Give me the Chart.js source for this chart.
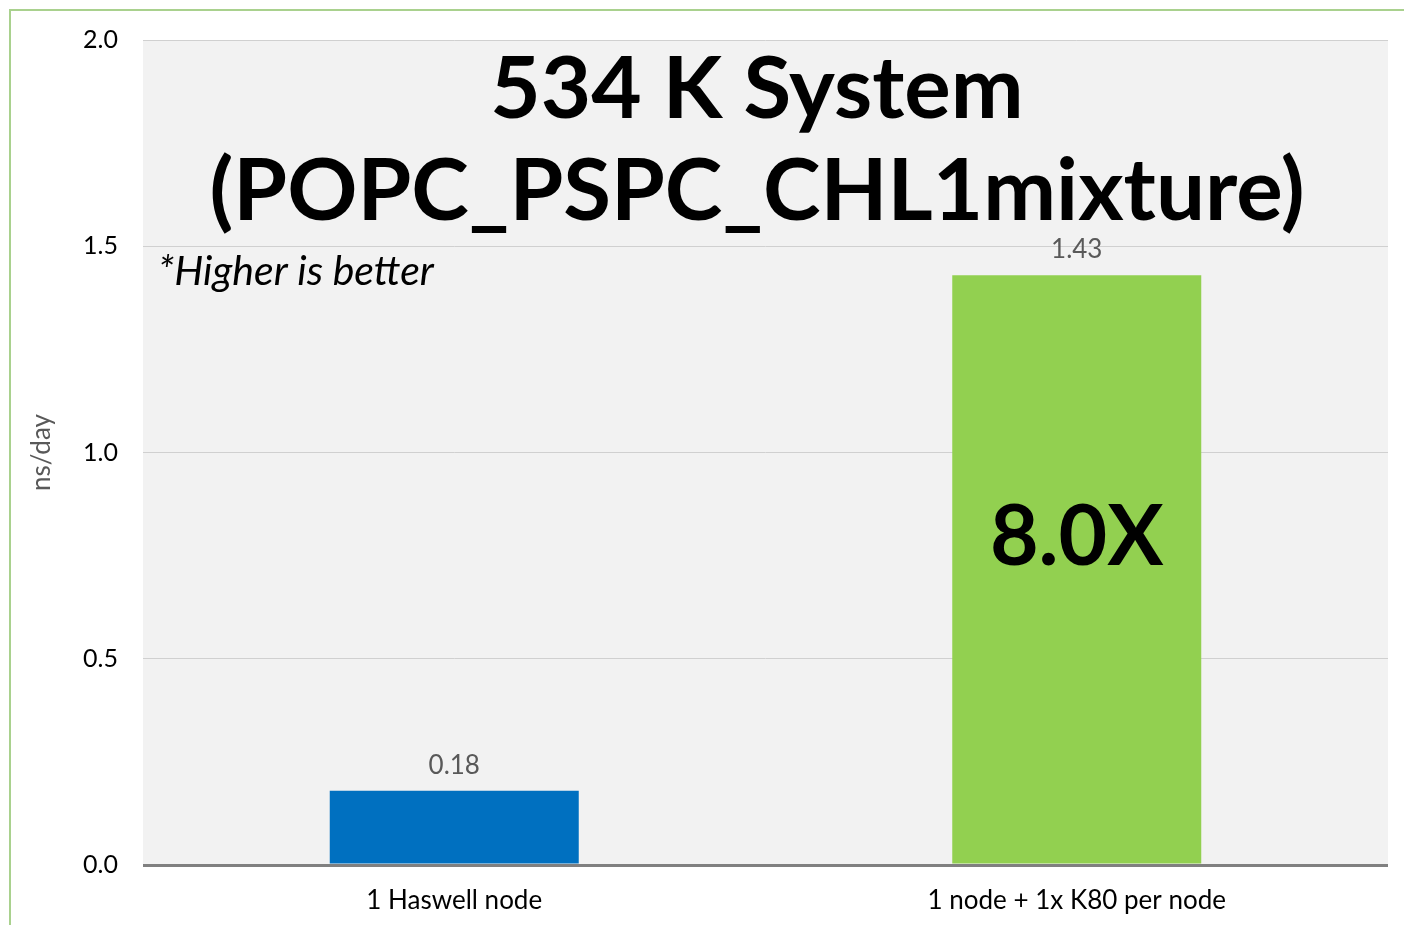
<!DOCTYPE html>
<html>
<head>
<meta charset="utf-8">
<script src="https://cdn.jsdelivr.net/npm/chart.js@4.4.1/dist/chart.umd.min.js"></script>
<style>
  html, body { margin: 0; padding: 0; background: #fff; }
  #wrap { position: relative; width: 1404px; height: 925px; }
</style>
</head>
<body>
<div id="wrap"><canvas id="myChart" width="1404" height="925"></canvas></div>
<script>
const categories = ['1 Haswell node', '1 node + 1x K80 per node'];
const nsPerDay = [0.18, 1.43];
const barColors = ['#0070c0', '#92d050'];
const yTicks = [0.0, 0.5, 1.0, 1.5, 2.0];
const titleLines = ['534 K System', '(POPC_PSPC_CHL1mixture)'];
const speedupText = '8.0X';
const noteText = '*Higher is better';

const FONT = 'Lato, "Open Sans", sans-serif';

// gray plot background, outer green frame
const backdrop = {
  id: 'backdrop',
  beforeDraw(chart) {
    const { ctx, chartArea: a } = chart;
    ctx.save();
    ctx.fillStyle = '#f2f2f2';
    ctx.fillRect(a.left, a.top, a.right - a.left, a.bottom - a.top);
    ctx.strokeStyle = '#a9d18e';
    ctx.lineWidth = 2;
    ctx.beginPath();
    ctx.moveTo(10, chart.height);
    ctx.lineTo(10, 10);
    ctx.lineTo(chart.width, 10);
    ctx.stroke();
    ctx.restore();
  }
};

// value labels, speedup, title and note
const annotations = {
  id: 'annotations',
  afterDatasetsDraw(chart) {
    const { ctx } = chart;
    const meta = chart.getDatasetMeta(0);
    ctx.save();
    ctx.textAlign = 'center';
    ctx.textBaseline = 'alphabetic';
    ctx.fillStyle = '#595959';
    ctx.font = '26px ' + FONT;
    meta.data.forEach((bar, i) => {
      ctx.fillText(nsPerDay[i].toFixed(2), bar.x, bar.y - 17);
    });

    const big = meta.data[1];
    const midY = chart.scales.y.getPixelForValue(nsPerDay[1] / 2);
    ctx.fillStyle = '#000';
    ctx.font = 'bold 84px ' + FONT;
    ctx.textBaseline = 'middle';
    ctx.fillText(speedupText, big.x, midY - 32);

    ctx.textBaseline = 'alphabetic';
    ctx.font = 'bold 87px ' + FONT;
    ctx.fillText(titleLines[0], 757, 118);
    ctx.fillText(titleLines[1], 757, 220);

    ctx.textAlign = 'left';
    ctx.font = 'italic 41px ' + FONT;
    ctx.fillText(noteText, 158, 285);
    ctx.restore();
  }
};

const ctx = document.getElementById('myChart').getContext('2d');
new Chart(ctx, {
  type: 'bar',
  data: {
    labels: categories,
    datasets: [{
      data: nsPerDay,
      backgroundColor: barColors,
      barPercentage: 0.4,
      categoryPercentage: 1.0
    }]
  },
  options: {
    responsive: false,
    animation: false,
    devicePixelRatio: 1,
    layout: { padding: { top: 39, right: 16, left: 0, bottom: 0 } },
    plugins: { legend: { display: false }, tooltip: { enabled: false } },
    scales: {
      x: {
        grid: { display: false },
        border: { display: false },
        ticks: { color: '#000', font: { family: FONT, size: 26 }, padding: 12 },
        afterFit(scale) { scale.height = 60; }
      },
      y: {
        min: 0,
        max: 2,
        afterBuildTicks(scale) { scale.ticks = yTicks.map(v => ({ value: v })); },
        border: { display: false },
        grid: {
          drawTicks: false,
          color: c => c.tick && c.tick.value === 0 ? '#808080' : '#d0d0d0',
          lineWidth: c => c.tick && c.tick.value === 0 ? 3 : 1
        },
        ticks: {
          color: '#000',
          padding: 25,
          font: { family: FONT, size: 25 },
          callback: v => v.toFixed(1)
        },
        title: {
          display: true,
          text: 'ns/day',
          color: '#595959',
          font: { family: FONT, size: 26 },
          padding: { top: 26, bottom: 0 }
        },
        afterFit(scale) { scale.width = 143; }
      }
    }
  },
  plugins: [backdrop, annotations]
});
</script>
</body>
</html>
